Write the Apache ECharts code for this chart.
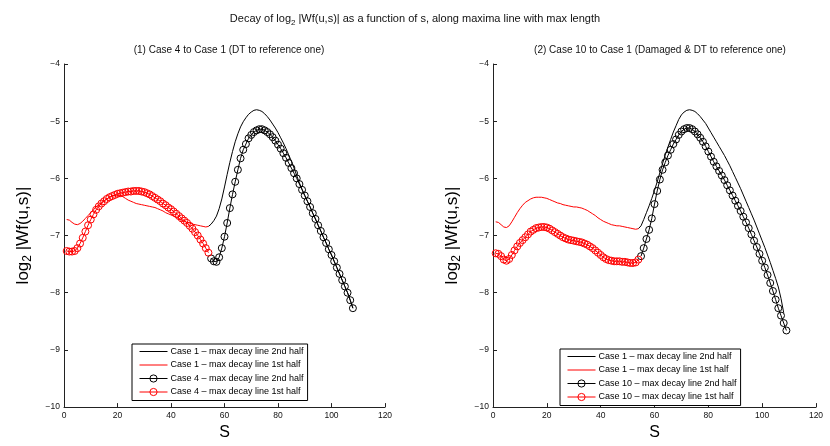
<!DOCTYPE html>
<html>
<head>
<meta charset="utf-8">
<script src="https://cdn.jsdelivr.net/npm/echarts@6/dist/echarts.min.js"></script>
<style>
  html, body { margin: 0; padding: 0; background: #fff; }
  #chart { width: 830px; height: 446px; }
</style>
</head>
<body>
<div id="chart"></div>
<script>
// Scale axis ticks
const xTicks = [0, 20, 40, 60, 80, 100, 120];
const yTicks = [-10, -9, -8, -7, -6, -5, -4];

// Panel (1): Case 4 against Case 1, one value per unit scale step
const leftCase1FirstStart = 1;
const leftCase1First = [
  -6.72, -6.73, -6.77, -6.80, -6.81, -6.79, -6.75, -6.70, -6.65, -6.60,
  -6.55, -6.50, -6.46, -6.42, -6.39, -6.36, -6.33, -6.31, -6.30, -6.29,
  -6.30, -6.32, -6.35, -6.38, -6.40, -6.42, -6.44, -6.45, -6.46, -6.47,
  -6.48, -6.49, -6.50, -6.51, -6.53, -6.55, -6.57, -6.60, -6.62, -6.64,
  -6.66, -6.68, -6.70, -6.73, -6.75, -6.77, -6.78, -6.80, -6.81, -6.82,
  -6.83, -6.84, -6.85, -6.84
];
const leftCase1SecondStart = 54;
const leftCase1Second = [
  -6.84, -6.80, -6.74, -6.66, -6.53, -6.36, -6.15, -5.93, -5.72, -5.53,
  -5.36, -5.22, -5.10, -5.01, -4.94, -4.88, -4.84, -4.81, -4.80, -4.81,
  -4.83, -4.87, -4.92, -4.98, -5.05, -5.12, -5.20, -5.29, -5.38, -5.48,
  -5.59, -5.70, -5.82, -5.95, -6.08, -6.19, -6.30, -6.40, -6.50, -6.61,
  -6.71, -6.82, -6.92, -7.03, -7.13, -7.24, -7.34, -7.45, -7.56, -7.67,
  -7.78, -7.89, -8.00, -8.13, -8.27
];
const leftCase4FirstStart = 1;
const leftCase4First = [
  -7.27, -7.28, -7.28, -7.27, -7.22, -7.14, -7.04, -6.93, -6.82, -6.72,
  -6.63, -6.55, -6.49, -6.44, -6.40, -6.36, -6.33, -6.31, -6.29, -6.27,
  -6.26, -6.25, -6.24, -6.23, -6.23, -6.22, -6.22, -6.22, -6.23, -6.24,
  -6.26, -6.28, -6.31, -6.34, -6.37, -6.40, -6.44, -6.47, -6.51, -6.54,
  -6.58, -6.62, -6.66, -6.70, -6.74, -6.78, -6.83, -6.88, -6.94, -7.00,
  -7.07, -7.14, -7.22, -7.30
];
const leftCase4SecondStart = 55;
const leftCase4Second = [
  -7.40, -7.45, -7.46, -7.38, -7.22, -7.02, -6.78, -6.52, -6.28, -6.06,
  -5.85, -5.65, -5.50, -5.40, -5.30, -5.24, -5.19, -5.16, -5.14, -5.14,
  -5.16, -5.19, -5.23, -5.28, -5.34, -5.41, -5.48, -5.56, -5.64, -5.73,
  -5.82, -5.91, -6.00, -6.10, -6.20, -6.30, -6.40, -6.50, -6.61, -6.71,
  -6.82, -6.92, -7.03, -7.13, -7.24, -7.34, -7.45, -7.56, -7.67, -7.78,
  -7.89, -8.00, -8.13, -8.27
];

// Panel (2): Case 10 against Case 1
const rightCase1FirstStart = 1;
const rightCase1First = [
  -6.76, -6.77, -6.81, -6.85, -6.86, -6.83, -6.76, -6.68, -6.60, -6.53,
  -6.47, -6.42, -6.39, -6.36, -6.34, -6.33, -6.33, -6.33, -6.34, -6.35,
  -6.37, -6.39, -6.41, -6.43, -6.44, -6.46, -6.47, -6.48, -6.49, -6.50,
  -6.50, -6.51, -6.52, -6.54, -6.56, -6.59, -6.62, -6.65, -6.69, -6.72,
  -6.75, -6.77, -6.79, -6.81, -6.82, -6.83, -6.83, -6.84, -6.85, -6.86,
  -6.87, -6.88, -6.89, -6.88
];
const rightCase1SecondStart = 54;
const rightCase1Second = [
  -6.88, -6.83, -6.72, -6.60, -6.48, -6.35, -6.21, -6.06, -5.90, -5.74,
  -5.59, -5.45, -5.32, -5.19, -5.08, -4.97, -4.89, -4.84, -4.81, -4.80,
  -4.81, -4.83, -4.87, -4.92, -4.98, -5.04, -5.12, -5.20, -5.28, -5.36,
  -5.44, -5.52, -5.60, -5.69, -5.78, -5.88, -5.98, -6.08, -6.18, -6.29,
  -6.40, -6.51, -6.62, -6.73, -6.85, -6.97, -7.09, -7.21, -7.34, -7.47,
  -7.61, -7.75, -7.90, -8.10, -8.35
];
const rightCase10FirstStart = 1;
const rightCase10First = [
  -7.31, -7.32, -7.36, -7.42, -7.44, -7.41, -7.34, -7.26, -7.19, -7.13,
  -7.08, -7.03, -6.98, -6.93, -6.90, -6.87, -6.86, -6.85, -6.85, -6.86,
  -6.88, -6.91, -6.94, -6.97, -7.00, -7.03, -7.05, -7.07, -7.08, -7.09,
  -7.10, -7.11, -7.12, -7.14, -7.16, -7.19, -7.22, -7.26, -7.30, -7.34,
  -7.38, -7.41, -7.43, -7.44, -7.45, -7.45, -7.45, -7.46, -7.46, -7.47,
  -7.48, -7.48, -7.47, -7.42
];
const rightCase10SecondStart = 55;
const rightCase10Second = [
  -7.36, -7.22, -7.06, -6.90, -6.70, -6.45, -6.22, -6.02, -5.85, -5.72,
  -5.60, -5.50, -5.40, -5.32, -5.24, -5.18, -5.14, -5.12, -5.12, -5.14,
  -5.18, -5.23, -5.29, -5.36, -5.44, -5.53, -5.62, -5.71, -5.79, -5.87,
  -5.95, -6.03, -6.12, -6.21, -6.30, -6.39, -6.48, -6.57, -6.67, -6.77,
  -6.87, -6.98, -7.09, -7.20, -7.32, -7.44, -7.56, -7.69, -7.83, -7.97,
  -8.12, -8.27, -8.40, -8.53, -8.66
];

const names = {
  c1Second: 'Case 1 \u2013 max decay line 2nd half',
  c1First: 'Case 1 \u2013 max decay line 1st half',
  c4Second: 'Case 4 \u2013 max decay line 2nd half',
  c4First: 'Case 4 \u2013 max decay line 1st half',
  c10Second: 'Case 10 \u2013 max decay line 2nd half',
  c10First: 'Case 10 \u2013 max decay line 1st half'
};

const FONT = '"Liberation Sans", Arial, Helvetica, sans-serif';
const RED = '#ff0000';
const BLACK = '#000000';

// pair each value with its scale index
const toPoints = (start, values) => values.map((v, i) => [start + i, v]);

function lineSeries(name, start, values, color, panel) {
  return {
    name, type: 'line', xAxisIndex: panel, yAxisIndex: panel,
    data: toPoints(start, values),
    symbol: 'none', showSymbol: false,
    lineStyle: { color, width: 1 },
    itemStyle: { color: 'transparent', borderColor: 'transparent', borderWidth: 0 },
    emphasis: { disabled: true },
    z: 2
  };
}

function markerSeries(name, start, values, color, panel) {
  return {
    name, type: 'line', xAxisIndex: panel, yAxisIndex: panel,
    data: toPoints(start, values),
    symbol: 'circle', symbolSize: 7, showSymbol: true,
    lineStyle: { color, width: 1 },
    itemStyle: { color: 'transparent', borderColor: color, borderWidth: 1 },
    emphasis: { disabled: true },
    z: 3
  };
}

const minusFmt = v => String(v).replace('-', '\u2212');

function xAxis(panel) {
  return {
    type: 'value', gridIndex: panel, min: xTicks[0], max: xTicks[xTicks.length - 1], interval: 20,
    name: 'S', nameLocation: 'middle', nameGap: 15,
    nameTextStyle: { fontSize: 16, color: BLACK, fontFamily: FONT },
    axisLine: { show: true, onZero: false, lineStyle: { color: '#222', width: 1 } },
    axisTick: { show: true, inside: true, length: 4, lineStyle: { color: '#222' } },
    axisLabel: { fontSize: 8.5, color: '#111', fontFamily: FONT, margin: 4 },
    splitLine: { show: false }
  };
}

function yAxis(panel) {
  return {
    type: 'value', gridIndex: panel, min: yTicks[0], max: yTicks[yTicks.length - 1], interval: 1,
    name: 'log{s|2} |Wf(u,s)|', nameLocation: 'middle', nameGap: 30, nameRotate: 90,
    nameTextStyle: {
      fontSize: 17, color: BLACK, fontFamily: FONT,
      rich: { s: { fontSize: 12, fontFamily: FONT, color: BLACK, padding: [10, 0, 0, 0] } }
    },
    axisLine: { show: true, onZero: false, lineStyle: { color: '#222', width: 1 } },
    axisTick: { show: true, inside: true, length: 4, lineStyle: { color: '#222' } },
    axisLabel: { fontSize: 8.5, color: '#111', fontFamily: FONT, margin: 4, formatter: minusFmt },
    splitLine: { show: false }
  };
}

function legend(left, top, data) {
  return {
    orient: 'vertical', left, top, data,
    itemWidth: 28, itemHeight: 9, itemGap: 4.5,
    padding: [3, 4, 4, 7],
    borderColor: BLACK, borderWidth: 1, backgroundColor: '#fff',
    selectedMode: false,
    lineStyle: { width: 1 },
    itemStyle: { borderWidth: 1 },
    textStyle: { fontSize: 9, color: BLACK, fontFamily: FONT, padding: [0, 0, 0, -2] }
  };
}

const chart = echarts.init(document.getElementById('chart'), null, { renderer: 'canvas' });

chart.setOption({
  animation: false,
  backgroundColor: '#fff',
  title: [
    {
      text: '{a|Decay of log}{s|2}{a| |Wf(u,s)| as a function of s, along maxima line with max length}',
      left: 'center', top: 6,
      textStyle: {
        fontWeight: 'normal',
        rich: {
          a: { fontSize: 11, fontWeight: 'normal', color: '#111', fontFamily: FONT },
          s: { fontSize: 8, fontWeight: 'normal', color: '#111', fontFamily: FONT, padding: [8, 0, 0, 0] }
        }
      }
    },
    {
      text: '(1) Case 4 to Case 1 (DT to reference one)',
      left: 224, top: 40, textAlign: 'center',
      textStyle: { fontSize: 10, fontWeight: 'normal', color: '#111', fontFamily: FONT }
    },
    {
      text: '(2) Case 10 to Case 1 (Damaged & DT to reference one)',
      left: 655, top: 40, textAlign: 'center',
      textStyle: { fontSize: 10, fontWeight: 'normal', color: '#111', fontFamily: FONT }
    }
  ],
  grid: [
    { left: 64, top: 64, width: 321, height: 350 },
    { left: 493, top: 64, width: 323, height: 350 }
  ],
  xAxis: [xAxis(0), xAxis(1)],
  yAxis: [yAxis(0), yAxis(1)],
  legend: [
    legend(132, 344, [names.c1Second, names.c1First, names.c4Second, names.c4First]),
    legend(560, 349, [names.c1Second, names.c1First, names.c10Second, names.c10First])
  ],
  series: [
    lineSeries(names.c1Second, leftCase1SecondStart, leftCase1Second, BLACK, 0),
    lineSeries(names.c1First, leftCase1FirstStart, leftCase1First, RED, 0),
    markerSeries(names.c4Second, leftCase4SecondStart, leftCase4Second, BLACK, 0),
    markerSeries(names.c4First, leftCase4FirstStart, leftCase4First, RED, 0),
    lineSeries(names.c1Second, rightCase1SecondStart, rightCase1Second, BLACK, 1),
    lineSeries(names.c1First, rightCase1FirstStart, rightCase1First, RED, 1),
    markerSeries(names.c10Second, rightCase10SecondStart, rightCase10Second, BLACK, 1),
    markerSeries(names.c10First, rightCase10FirstStart, rightCase10First, RED, 1)
  ]
});
</script>
</body>
</html>
